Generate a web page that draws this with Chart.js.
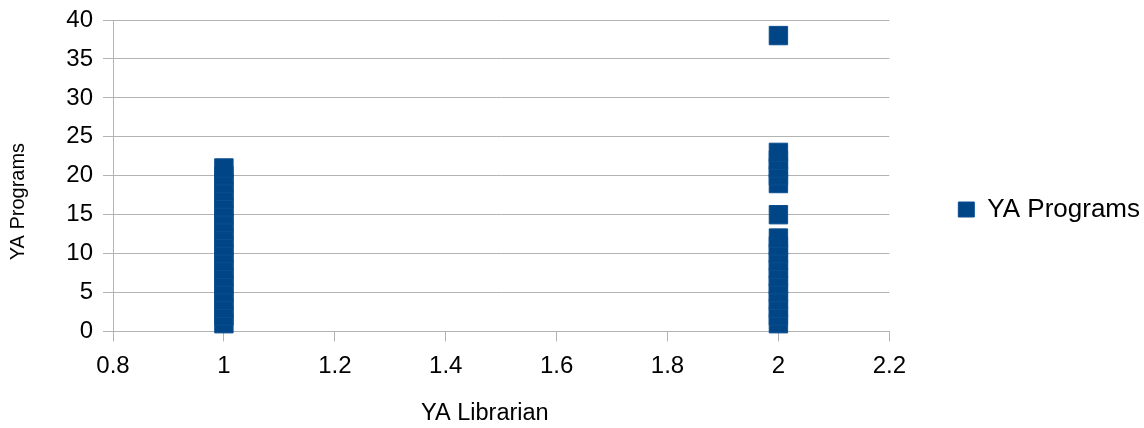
<!DOCTYPE html>
<html>
<head>
<meta charset="utf-8">
<script src="https://cdn.jsdelivr.net/npm/chart.js@4"></script>
<style>
html,body{margin:0;padding:0;background:#fff;}
#wrap{width:1144px;height:428px;position:relative;}
</style>
</head>
<body>
<div id="wrap"><canvas id="c" width="1144" height="428"></canvas></div>
<script>
// Data
const seriesName = "YA Programs";
const xTitle = "YA Librarian";
const yTitle = "YA Programs";
const librarianOne = [1, 1, 1, 1, 1, 1, 1, 1, 1, 1, 1, 1, 1, 1, 1, 1, 1, 1, 1, 1, 1];
const programsOne = [1, 2, 3, 4, 5, 6, 7, 8, 9, 10, 11, 12, 13, 14, 15, 16, 17, 18, 19, 20, 21];
const librarianTwo = [2, 2, 2, 2, 2, 2, 2, 2, 2, 2, 2, 2, 2, 2, 2, 2, 2, 2, 2];
const programsTwo = [1, 2, 3, 4, 5, 6, 7, 8, 9, 10, 11, 12, 15, 19, 20, 21, 22, 23, 38];

const points = [];
librarianOne.forEach((x, i) => points.push({x: x, y: programsOne[i]}));
librarianTwo.forEach((x, i) => points.push({x: x, y: programsTwo[i]}));

const gridColor = '#b3b3b3';
const fam = '"Liberation Sans", Arial, sans-serif';

// Axis titles placed like the reference (offset from the plot centre)
const axisTitles = {
  id: 'axisTitles',
  afterDraw(chart) {
    const ctx = chart.ctx;
    const a = chart.chartArea;
    ctx.save();
    ctx.fillStyle = '#000';
    ctx.textAlign = 'center';
    ctx.textBaseline = 'middle';
    ctx.font = '23.5px ' + fam;
    ctx.fillText(xTitle, a.left + (a.right - a.left) * 0.479, a.bottom + 82.5);
    ctx.translate(18, a.top + (a.bottom - a.top) * 0.583);
    ctx.rotate(-Math.PI / 2);
    ctx.font = '20px ' + fam;
    ctx.fillText(yTitle, 0, 0);
    ctx.restore();
  }
};

new Chart(document.getElementById('c'), {
  type: 'scatter',
  data: {
    datasets: [{
      label: seriesName,
      data: points,
      pointStyle: 'rect',
      pointRadius: 13,
      pointHoverRadius: 13,
      backgroundColor: '#004586',
      borderColor: '#0b4f91',
      borderWidth: 1,
      clip: false
    }]
  },
  plugins: [axisTitles],
  options: {
    responsive: false,
    animation: false,
    events: [],
    layout: { autoPadding: false, padding: { left: 0, top: 20, right: -6, bottom: 29 } },
    plugins: {
      tooltip: { enabled: false },
      legend: {
        position: 'right',
        labels: {
          boxWidth: 16,
          boxHeight: 15,
          padding: 69,
          color: '#000',
          font: { family: fam, size: 26 }
        }
      }
    },
    scales: {
      x: {
        type: 'linear',
        min: 0.8,
        max: 2.2,
        ticks: {
          stepSize: 0.2,
          color: '#000',
          padding: 10,
          font: { family: fam, size: 24 },
          maxRotation: 0,
          callback: (v) => String(Number(Number(v).toFixed(2)))
        },
        grid: {
          drawOnChartArea: false,
          drawTicks: true,
          tickLength: 10,
          color: gridColor
        },
        border: { display: true, color: gridColor },
        afterFit: (s) => { s.height = 67.5; }
      },
      y: {
        type: 'linear',
        min: 0,
        max: 40,
        ticks: {
          stepSize: 5,
          color: '#000',
          padding: 10,
          font: { family: fam, size: 24 }
        },
        grid: {
          color: gridColor,
          tickLength: 10
        },
        border: { display: true, color: gridColor },
        afterFit: (s) => { s.width = 113; s.paddingTop = 0; s.paddingBottom = 0; }
      }
    }
  }
});
</script>
</body>
</html>
